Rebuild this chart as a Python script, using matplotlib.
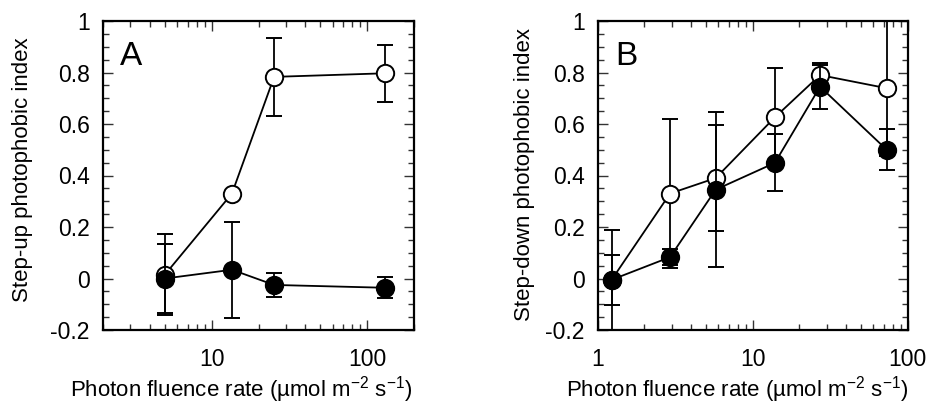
import matplotlib
matplotlib.use("Agg")
import matplotlib.pyplot as plt
from matplotlib.ticker import FixedLocator, MultipleLocator, FuncFormatter, LogLocator, NullFormatter

plt.rcParams['font.family'] = ['Liberation Sans', 'DejaVu Sans']
plt.rcParams['mathtext.fontset'] = 'custom'
plt.rcParams['mathtext.rm'] = 'Liberation Sans'
plt.rcParams['mathtext.it'] = 'Liberation Sans'
plt.rcParams['axes.unicode_minus'] = False

# Panel A data
a_x_open = [5.0, 13.5, 25.2, 131]
a_y_open = [0.015, 0.33, 0.783, 0.797]
a_e_open = [0.158, 0.0, 0.15, 0.11]
a_x_fill = [5.0, 13.5, 25.2, 131]
a_y_fill = [0.0, 0.034, -0.025, -0.036]
a_e_fill = [0.135, 0.186, 0.046, 0.041]

# Panel B data
b_x_open = [1.23, 2.93, 5.77, 13.9, 27.2, 73.2]
b_y_open = [-0.005, 0.33, 0.39, 0.626, 0.79, 0.739]
b_e_open = [0.195, 0.29, 0.205, 0.19, 0.045, 0.265]
b_x_fill = [1.23, 2.93, 5.77, 13.9, 27.2, 73.2]
b_y_fill = [-0.005, 0.083, 0.345, 0.449, 0.745, 0.50]
b_e_fill = [0.097, 0.03, 0.30, 0.111, 0.085, 0.08]

y_ticks = [-0.2, 0, 0.2, 0.4, 0.6, 0.8, 1]
xlabel = r'Photon fluence rate (µmol m$^{-2}$ s$^{-1}$)'

W, H = 930, 408
fig = plt.figure(figsize=(W / 100, H / 100), dpi=100)

def fmt(v, pos):
    return ('%g' % v)

def draw(ax, xo, yo, eo, xf, yf, ef, xlim, letter, ylabel, ylx, yly):
    kw = dict(color='black', lw=1.3, elinewidth=1.3, capsize=5.5, capthick=1.3,
              markersize=12.5, markeredgewidth=1.4, markeredgecolor='black')
    ax.errorbar(xo, yo, yerr=eo, fmt='-o', markerfacecolor='white', zorder=3, **kw)
    ax.errorbar(xf, yf, yerr=ef, fmt='-o', markerfacecolor='black', zorder=4, **kw)
    ax.set_xscale('log')
    ax.set_xlim(*xlim)
    ax.set_ylim(-0.2, 1.0)
    ax.yaxis.set_major_locator(FixedLocator(y_ticks))
    ax.yaxis.set_minor_locator(MultipleLocator(0.05))
    ax.yaxis.set_major_formatter(FuncFormatter(fmt))
    ax.xaxis.set_major_locator(LogLocator(base=10, numticks=10))
    ax.xaxis.set_minor_locator(LogLocator(base=10, subs=range(2, 10), numticks=10))
    ax.xaxis.set_major_formatter(FuncFormatter(fmt))
    ax.xaxis.set_minor_formatter(NullFormatter())
    ax.tick_params(which='both', direction='in', top=True, right=True, width=1.0, color='#333333')
    ax.tick_params(which='major', length=7.5, labelsize=16.5)
    ax.tick_params(which='minor', length=4)
    ax.tick_params(axis='y', which='major', pad=9.5)
    ax.tick_params(axis='x', which='major', pad=13)
    for s in ax.spines.values():
        s.set_linewidth(1.6)
    ax.text(0.055, 0.935, letter, transform=ax.transAxes, fontsize=24, va='top', ha='left')
    ax.set_ylabel(ylabel, fontsize=16)
    ax.yaxis.set_label_coords(ylx, yly)

axA = fig.add_axes([103 / W, 1 - 330 / H, 311 / W, 309 / H])
draw(axA, a_x_open, a_y_open, a_e_open, a_x_fill, a_y_fill, a_e_fill, (2, 200), 'A',
     'Step-up photophobic index', -0.225, 0.519)
axB = fig.add_axes([597.7 / W, 1 - 330 / H, 310 / W, 309 / H])
draw(axB, b_x_open, b_y_open, b_e_open, b_x_fill, b_y_fill, b_e_fill, (1, 100), 'B',
     'Step-down photophobic index', -0.202, 0.503)

fig.text(241 / W, 1 - 390 / H, xlabel, fontsize=16, ha='center', va='center')
fig.text(737 / W, 1 - 390 / H, xlabel, fontsize=16, ha='center', va='center')

fig.savefig('out.png', dpi=100)
